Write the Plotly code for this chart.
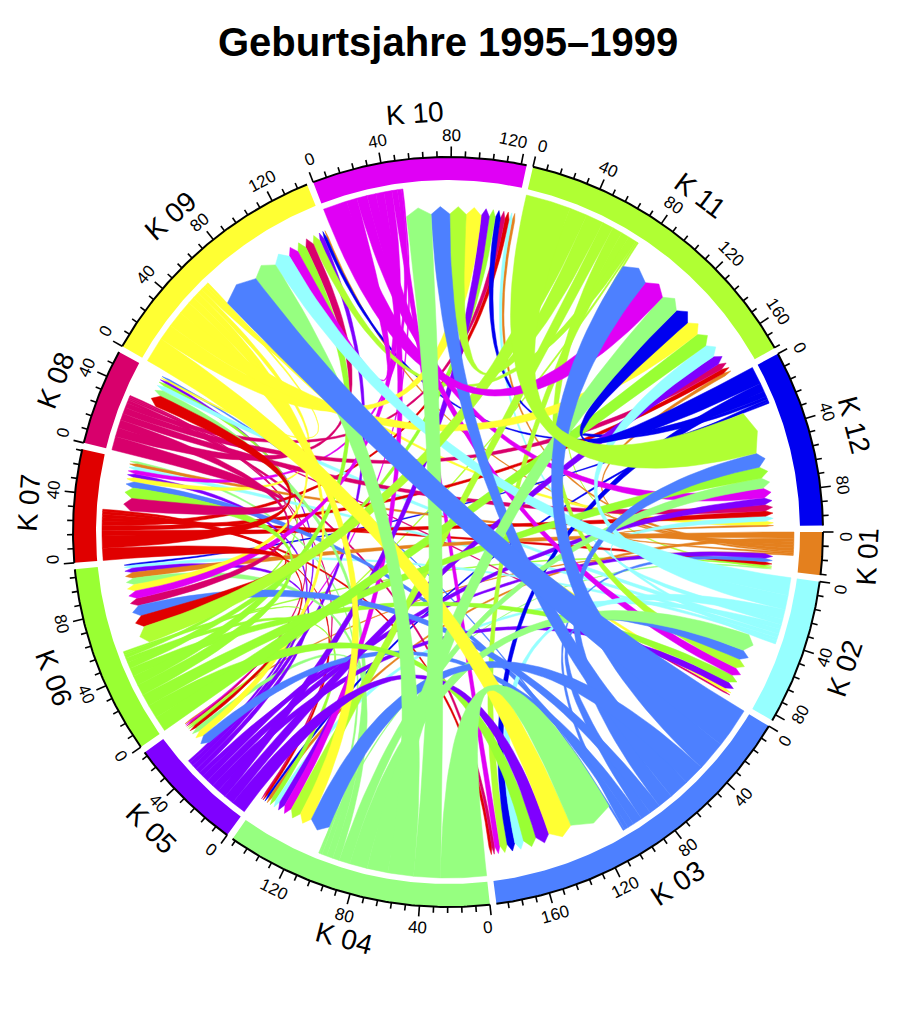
import numpy as np
import plotly.graph_objects as go

TITLE = "Geburtsjahre 1995\u20131999"
SECTORS = ["K 01", "K 02", "K 03", "K 04", "K 05", "K 06", "K 07", "K 08", "K 09", "K 10", "K 11", "K 12"]
COLORS = ["#E4801E", "#96FFFF", "#4D80FF", "#96FF80", "#7F00FF", "#99FF33",
          "#E00000", "#D8006C", "#FFFF33", "#E000F5", "#B0FF33", "#0000F0"]

# flows from each sector to K 01 ... K 12
FLOW_K01 = [0, 0, 0, 2, 0.8, 3.8, 2, 0, 1, 1.9, 2, 1]
FLOW_K02 = [0, 0, 6, 3, 0, 2, 2.4, 3, 11, 2, 9, 3.4]
FLOW_K03 = [2.4, 6.5, 0, 13, 6, 7, 4, 1, 25, 12.5, 18.5, 9.5]
FLOW_K04 = [0.7, 11, 28.5, 0, 3, 4.2, 1.5, 4, 16, 16.5, 13, 6.8]
FLOW_K05 = [3, 4.5, 9, 4, 0, 3, 2.5, 1.5, 3, 5.5, 6, 4.5]
FLOW_K06 = [1, 5.2, 8.5, 2.8, 1.2, 0, 7, 2, 6, 4, 9.5, 7.5]
FLOW_K07 = [2, 0, 1.8, 1.4, 2, 7.5, 0, 7.5, 0, 2.8, 3, 3.5]
FLOW_K08 = [0, 1, 2, 1, 1, 5, 8.5, 0, 5.5, 3, 4, 4.2]
FLOW_K09 = [0, 2, 15.8, 8, 4, 4.4, 2.9, 1.2, 0, 10, 10, 2.5]
FLOW_K10 = [0, 5.5, 3.5, 5, 0.9, 5, 2.5, 0, 6.5, 0, 15, 6.5]
FLOW_K11 = [0.9, 6.2, 5, 7, 1.1, 11, 0, 0, 5, 11, 0, 28]
FLOW_K12 = [0, 0, 5.2, 1.5, 0, 1, 0, 0, 2, 3.5, 11, 0]

MAJOR_STEP = 40
MINOR_STEP = 8

CX, CY = 448.0, 532.0
R_OUT, R_RING, R_BASE, R_SIDE, R_TIP = 375.0, 352.0, 346.0, 318.0, 325.5
GAP_DEG = 1.0

M = np.array([FLOW_K01, FLOW_K02, FLOW_K03, FLOW_K04, FLOW_K05, FLOW_K06,
              FLOW_K07, FLOW_K08, FLOW_K09, FLOW_K10, FLOW_K11, FLOW_K12], dtype=float)
n = len(SECTORS)
out_tot, in_tot = M.sum(axis=1), M.sum(axis=0)
span_units = out_tot + in_tot
deg_per = (360.0 - n * GAP_DEG) / span_units.sum()
starts = np.zeros(n)
for k in range(1, n):
    starts[k] = starts[k - 1] + span_units[k - 1] * deg_per + GAP_DEG


def pol(r, deg):
    t = np.radians(deg)
    return r * np.cos(t), r * np.sin(t)


def arc(r, a, b, step=0.5):
    m = max(2, int(abs(b - a) / step) + 2)
    return pol(r, np.linspace(a, b, m))


def bez(p0, p1, m=50):
    t = np.linspace(0, 1, m)
    # quadratic curve pulled through the circle centre
    return ((1 - t) ** 2 * p0[0] + t ** 2 * p1[0], (1 - t) ** 2 * p0[1] + t ** 2 * p1[1])


# slots: each sector holds its outgoing wedge, then arrows of incoming flows
src_slot, dst_slot = {}, {}
for i in range(n):
    pos = starts[i]
    for j in sorted(range(n), key=lambda q: -M[i, q]):
        if M[i, j] > 0:
            w = M[i, j] * deg_per
            src_slot[(i, j)] = (pos, pos + w)
            pos += w
    for o in sorted(range(n), key=lambda q: -M[q, i]):
        if M[o, i] > 0:
            w = M[o, i] * deg_per
            dst_slot[(o, i)] = (pos, pos + w)
            pos += w

fig = go.Figure()
pairs = sorted(src_slot, key=lambda k: M[k])
for (i, j) in pairs:
    a1, a2 = src_slot[(i, j)]
    b1, b2 = dst_slot[(i, j)]
    xs, ys = [], []
    x, y = arc(R_BASE, a1, a2); xs.append(x); ys.append(y)
    x, y = bez(pol(R_BASE, a2), pol(R_SIDE, b1)); xs.append(x); ys.append(y)
    x, y = pol(R_TIP, (b1 + b2) / 2); xs.append(np.array([x])); ys.append(np.array([y]))
    x, y = bez(pol(R_SIDE, b2), pol(R_BASE, a1)); xs.append(x); ys.append(y)
    fig.add_trace(go.Scatter(x=np.concatenate(xs), y=np.concatenate(ys), mode="lines",
                             fill="toself", fillcolor=COLORS[i],
                             line=dict(color=COLORS[i], width=0.5),
                             hoverinfo="skip", showlegend=False))

annots = []


def rot(theta):
    return theta - 90 if np.sin(np.radians(theta)) > 0 else theta + 90


for k in range(n):
    a = starts[k]
    b = a + span_units[k] * deg_per
    xo, yo = arc(R_OUT, a, b)
    xi, yi = arc(R_RING, b, a)
    fig.add_trace(go.Scatter(x=np.r_[xo, xi], y=np.r_[yo, yi], mode="lines", fill="toself",
                             fillcolor=COLORS[k], line=dict(color=COLORS[k], width=0),
                             hoverinfo="skip", showlegend=False))
    fig.add_trace(go.Scatter(x=xo, y=yo, mode="lines", line=dict(color="black", width=2),
                             hoverinfo="skip", showlegend=False))
    tx, ty = [], []
    for u in np.arange(0, span_units[k] + 1e-6, MINOR_STEP):
        th = a + u * deg_per
        major = int(u) % MAJOR_STEP == 0
        x0, y0 = pol(R_OUT, th)
        x1, y1 = pol(R_OUT + (10.5 if major else 6), th)
        tx += [x0, x1, None]
        ty += [y0, y1, None]
        if major:
            # labels close to a sector end are pushed away from the neighbouring label
            shift = 0.7 if u == 0 else (-1.8 if b - th < 2.0 else 0.0)
            lx, ly = pol(397, th + shift)
            annots.append(dict(x=lx, y=ly, text=str(int(u)), textangle=rot(th), showarrow=False,
                               xanchor="center", yanchor="middle",
                               font=dict(family="Liberation Sans", size=17, color="black")))
    fig.add_trace(go.Scatter(x=tx, y=ty, mode="lines", line=dict(color="black", width=1.6),
                             hoverinfo="skip", showlegend=False))
    mid = (a + b) / 2
    lx, ly = pol(420, mid)
    annots.append(dict(x=lx, y=ly, text=SECTORS[k], textangle=rot(mid), showarrow=False,
                       xanchor="center", yanchor="middle",
                       font=dict(family="Liberation Sans", size=28, color="black")))

annots.append(dict(x=0, y=42 - CY, text="<b>%s</b>" % TITLE, showarrow=False,
                   xanchor="center", yanchor="middle",
                   font=dict(family="Liberation Sans", size=40, color="black")))

fig.update_layout(width=897, height=1024, margin=dict(l=0, r=0, t=0, b=0), autosize=False,
                  paper_bgcolor="white", plot_bgcolor="white", annotations=annots,
                  xaxis=dict(range=[-CX, 897 - CX], visible=False, fixedrange=True),
                  yaxis=dict(range=[1024 - CY, -CY], visible=False, fixedrange=True))
fig.write_html("out.html", config=dict(displayModeBar=False),
               post_script="document.body.style.margin='0';")
